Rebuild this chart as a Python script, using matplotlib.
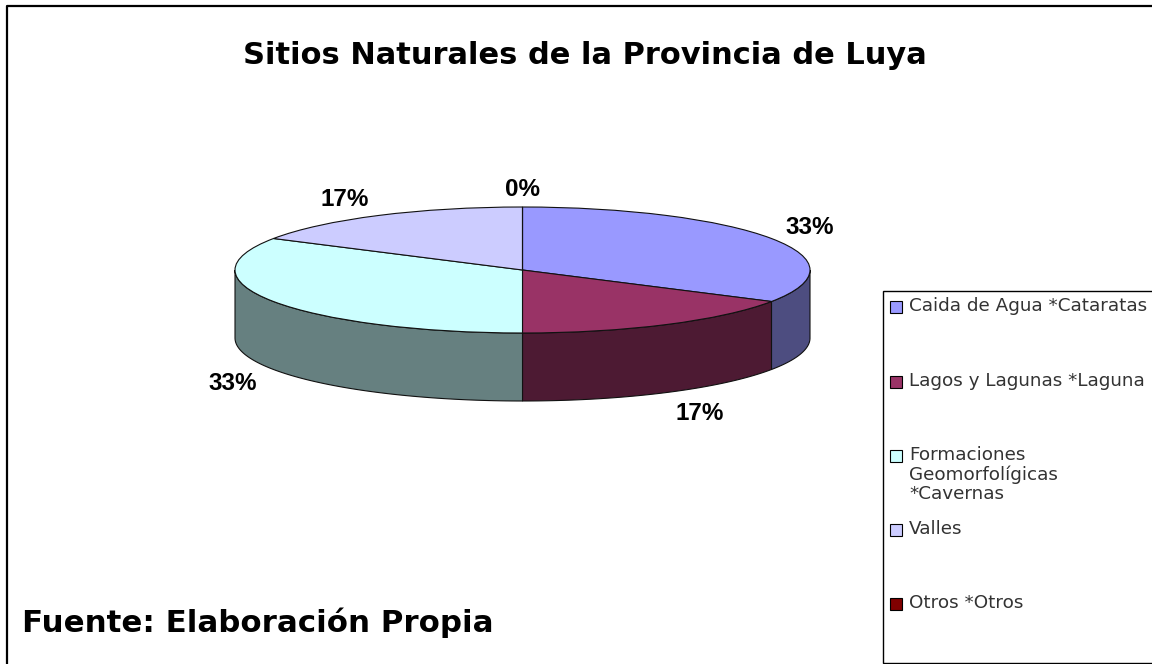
import numpy as np
import matplotlib
matplotlib.use('Agg')
import matplotlib.pyplot as plt
from matplotlib.patches import Rectangle

plt.rcParams['font.family'] = ['Liberation Sans', 'DejaVu Sans']

title = 'Sitios Naturales de la Provincia de Luya'
source = 'Fuente: Elaboración Propia'
categories = ['Caida de Agua *Cataratas', 'Lagos y Lagunas *Laguna',
              'Formaciones\nGeomorfolígicas\n*Cavernas', 'Valles', 'Otros *Otros']
values = [2, 1, 2, 1, 0]
top_colors = ['#9999FF', '#993366', '#CCFFFF', '#CCCCFF', '#800000']
side_colors = ['#4D4D80', '#4D1A33', '#668080', '#666680', '#400000']

# pixel positions, the picture was laid out by hand
label_pos = [(810, 228), (700, 413), (233, 384), (345, 199), (522, 190)]
legend_y = [307, 382, 456, 530, 604]

W, H = 1152, 664
PIE_LEFT, PIE_RIGHT = 235, 810
PIE_TOP, PIE_MID = 207, 270
DEPTH = 68 / 63.0

fig = plt.figure(figsize=(W / 100, H / 100), dpi=100)
page = fig.add_axes([0, 0, 1, 1])
page.set_xlim(0, W)
page.set_ylim(H, 0)
page.axis('off')

page.plot([6.5, 6.5, W], [H, 5.5, 5.5], color='black', lw=1.6)
# the reference text is stretched sideways, DejaVu has about the same width
page.text(585, 56, title, fontsize=22, fontweight='bold', family='DejaVu Sans',
          ha='center', va='center')
page.text(22, 623, source, fontsize=22.2, fontweight='bold', family='DejaVu Sans',
          ha='left', va='center')

page.add_patch(Rectangle((883, 291), 300, 372, fc='white', ec='black', lw=1))
for name, color, y in zip(categories, top_colors, legend_y):
    page.add_patch(Rectangle((889.5, y - 6), 12, 12, fc=color, ec='black', lw=0.8))
    page.text(909, y - 10, name, fontsize=13.2, color='#333333', family='DejaVu Sans',
              ha='left', va='top', linespacing=1.08)

total = sum(values)
for value, (x, y) in zip(values, label_pos):
    page.text(x, y, f'{value / total:.0%}', fontsize=17.5, fontweight='bold',
              ha='center', va='center')

# pie axes squashed so the circle turns into the ellipse
bottom_px = PIE_MID + (PIE_MID - PIE_TOP) * (1 + DEPTH)
ax = fig.add_axes([PIE_LEFT / W, 1 - bottom_px / H,
                   (PIE_RIGHT - PIE_LEFT) / W, (bottom_px - PIE_TOP) / H])
ax.patch.set_alpha(0)

# walls first, only the front half of the rim shows
start = 90.0
for value, color in zip(values, side_colors):
    stop = start - 360.0 * value / total
    lo, hi = max(stop, -180.0), min(start, 0.0)
    if hi > lo:
        t = np.radians(np.linspace(hi, lo, 80))
        xs = np.cos(t)
        ys = np.sin(t)
        ax.fill(np.r_[xs, xs[::-1]], np.r_[ys, ys[::-1] - DEPTH],
                fc=color, ec='#111111', lw=0.8)
    start = stop

ax.pie(values, colors=top_colors, startangle=90, counterclock=False,
       wedgeprops={'edgecolor': '#111111', 'linewidth': 0.8})
ax.set_aspect('auto')
ax.set_xlim(-1, 1)
ax.set_ylim(-1 - DEPTH, 1)
ax.axis('off')
for artist in ax.get_children():
    artist.set_clip_on(False)

fig.savefig('out.png', dpi=100)
